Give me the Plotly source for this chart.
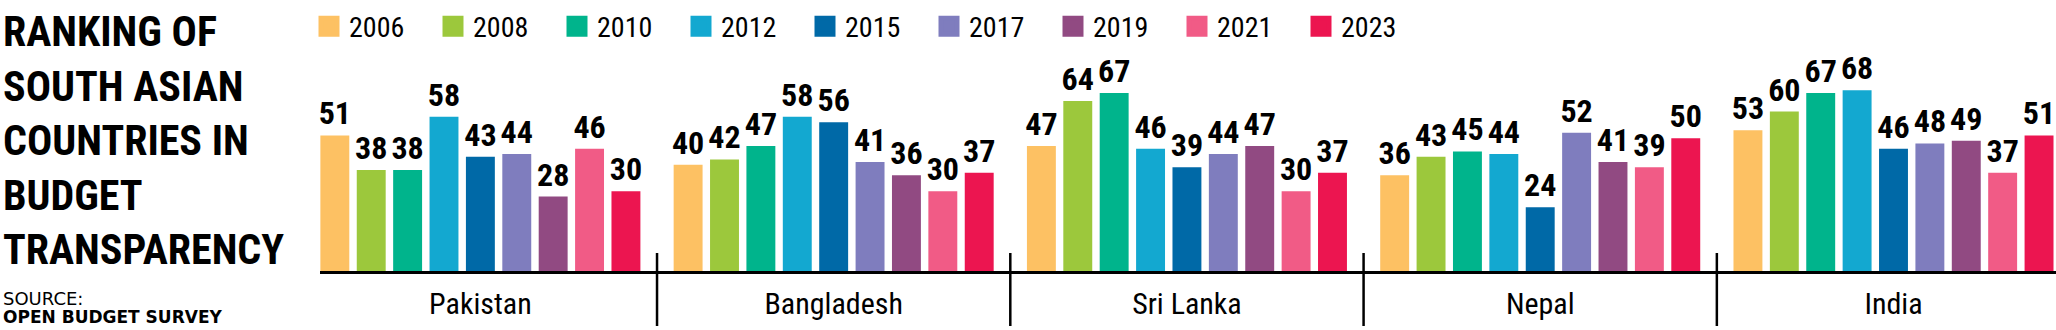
import plotly.graph_objects as go

countries = ["Pakistan", "Bangladesh", "Sri Lanka", "Nepal", "India"]
years = ["2006", "2008", "2010", "2012", "2015", "2017", "2019", "2021", "2023"]

v2006 = [51, 40, 47, 36, 53]
v2008 = [38, 42, 64, 43, 60]
v2010 = [38, 47, 67, 45, 67]
v2012 = [58, 58, 46, 44, 68]
v2015 = [43, 56, 39, 24, 46]
v2017 = [44, 41, 44, 52, 48]
v2019 = [28, 36, 47, 41, 49]
v2021 = [46, 30, 30, 39, 37]
v2023 = [30, 37, 37, 50, 51]
series = [v2006, v2008, v2010, v2012, v2015, v2017, v2019, v2021, v2023]

colors = ["#FDC163", "#9CC83C", "#00B48C", "#13A8D0", "#0069A7",
          "#7F7DBE", "#914A82", "#F15B86", "#EC1550"]

title_lines = ["RANKING OF", "SOUTH ASIAN", "COUNTRIES IN", "BUDGET", "TRANSPARENCY"]

COND = "Roboto Condensed, Open Sans Condensed, DejaVu Sans Condensed, sans-serif"

W, H = 2056, 330
ML, MR, MT, MB = 320, 0, 60, 59
PW = W - ML - MR
PH = H - MT - MB

fig = go.Figure()
for yr, vals, col in zip(years, series, colors):
    fig.add_trace(go.Bar(
        x=countries, y=vals, name=yr, marker_color=col, marker_line_width=0,
        text=[str(v) for v in vals], textposition="outside",
        textfont=dict(family=COND, size=32, color="black", weight="bold"),
        constraintext="none", cliponaxis=False, showlegend=False,
    ))

legend_layouts = {}
for i, (yr, col) in enumerate(zip(years, colors)):
    lname = "legend" if i == 0 else f"legend{i + 1}"
    fig.add_trace(go.Scatter(
        x=[None], y=[None], mode="markers", name=yr, legend=lname,
        marker=dict(symbol="square", size=16, color=col, line=dict(color=col, width=5)),
        showlegend=True,
    ))
    legend_layouts[lname] = dict(
        orientation="h", xref="container", yref="container",
        x=(309 + i * 124) / W, y=1 - 26.5 / H, xanchor="left", yanchor="middle",
        font=dict(family=COND, size=28, color="black"),
        bgcolor="rgba(0,0,0,0)", borderwidth=0,
    )

def px_to_paper_y(ypx):
    return (H - MB - ypx) / PH

def px_to_paper_x(xpx):
    return (xpx - ML) / PW

annotations = [dict(
    text="<br>".join(title_lines), x=px_to_paper_x(1), y=px_to_paper_y(140),
    xref="paper", yref="paper", xanchor="left", yanchor="middle", align="left",
    showarrow=False, font=dict(family=COND, size=42, color="black", weight="bold"),
)]
annotations.append(dict(
    text="SOURCE:", x=px_to_paper_x(1), y=px_to_paper_y(298.5), xref="paper", yref="paper",
    xanchor="left", yanchor="middle", showarrow=False,
    font=dict(family="DejaVu Sans, Verdana, sans-serif", size=18, color="black"),
))
annotations.append(dict(
    text="<b>OPEN BUDGET SURVEY</b>", x=px_to_paper_x(1), y=px_to_paper_y(317), xref="paper", yref="paper",
    xanchor="left", yanchor="middle", showarrow=False,
    font=dict(family="DejaVu Sans, Verdana, sans-serif", size=17, color="black"),
))

shapes = []
for i in range(len(countries) - 1):
    shapes.append(dict(
        type="line", xref="x", yref="paper", x0=i + 0.5, x1=i + 0.5,
        y0=px_to_paper_y(326), y1=px_to_paper_y(253),
        line=dict(color="black", width=2.5),
    ))

fig.update_layout(
    width=W, height=H, autosize=False,
    margin=dict(l=ML, r=MR, t=MT, b=MB, pad=0),
    paper_bgcolor="white", plot_bgcolor="white",
    barmode="group", bargap=0.073, bargroupgap=0.205,
    xaxis=dict(type="category", range=[-0.454, 4.46], showline=True, linewidth=3,
               linecolor="black", showgrid=False, zeroline=False, ticks="",
               tickfont=dict(family=COND, size=30, color="black"),
               ticklabelstandoff=4),
    yaxis=dict(range=[0, 79.4], visible=False, showgrid=False, zeroline=False),
    showlegend=True,
    annotations=annotations, shapes=shapes,
    **legend_layouts,
)

fig.write_html("out.html")
